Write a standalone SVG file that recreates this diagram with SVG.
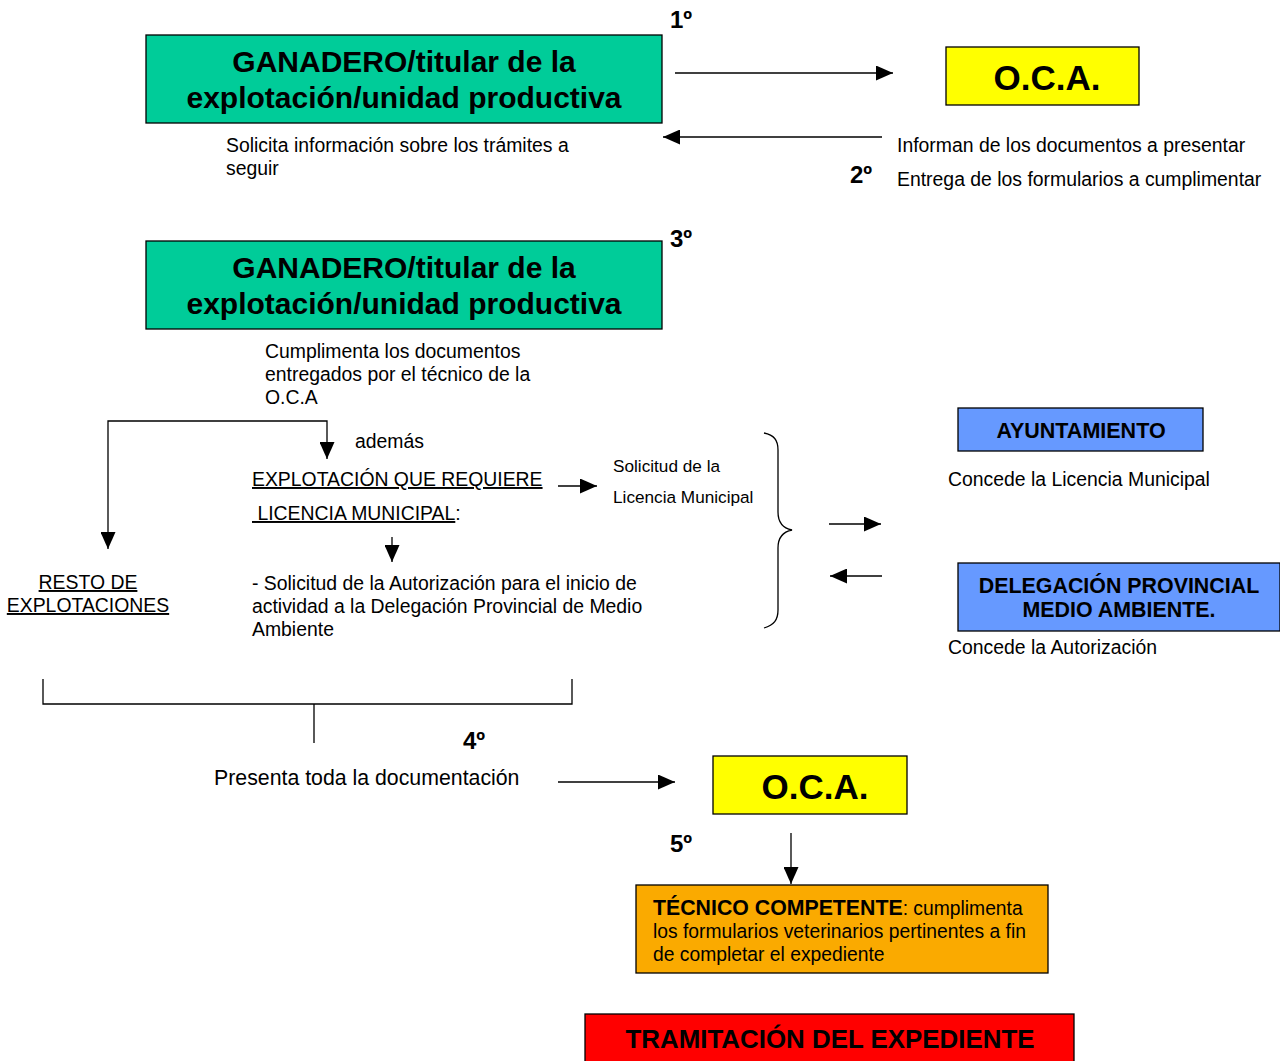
<svg xmlns="http://www.w3.org/2000/svg" width="1280" height="1061" viewBox="0 0 1280 1061">
<style>
text{font-family:"Liberation Sans",Arial,sans-serif;fill:#000}
.b{font-weight:bold}
.box{stroke:#000;stroke-width:1.3}
.t{font-size:19.4px}
.s{font-size:17.2px}
.n{font-size:24px;font-weight:bold}
.ln{stroke:#000;stroke-width:1.3;fill:none}
</style>
<defs>
<marker id="ahL" viewBox="0 0 17 15" refX="17" refY="7.5" markerWidth="17" markerHeight="15" markerUnits="userSpaceOnUse" orient="auto"><path d="M0,0L17,7.5L0,15z" fill="#000"/></marker>
</defs>
<rect width="1280" height="1061" fill="#fff"/>

<g id="ganadero1">
<rect class="box" x="146" y="35" width="516" height="88" fill="#00CC99"/>
<text class="b" x="404" y="72" font-size="30" text-anchor="middle">GANADERO/titular de la</text>
<text class="b" x="404" y="108" font-size="30" text-anchor="middle">explotación/unidad productiva</text>
</g>
<g id="oca1">
<rect class="box" x="946" y="47" width="193" height="58" fill="#FFFF00"/>
<text class="b" x="1047" y="90" font-size="35" text-anchor="middle">O.C.A.</text>
</g>
<g id="ganadero2">
<rect class="box" x="146" y="241" width="516" height="88" fill="#00CC99"/>
<text class="b" x="404" y="278" font-size="30" text-anchor="middle">GANADERO/titular de la</text>
<text class="b" x="404" y="314" font-size="30" text-anchor="middle">explotación/unidad productiva</text>
</g>
<g id="ayuntamiento">
<rect class="box" x="958" y="408" width="245" height="43" fill="#6699FF"/>
<text class="b" x="1081" y="438" font-size="21.5" text-anchor="middle">AYUNTAMIENTO</text>
</g>
<g id="delegacion">
<rect class="box" x="958" y="563" width="322" height="68" fill="#6699FF"/>
<text class="b" x="1119" y="593" font-size="21.4" text-anchor="middle">DELEGACIÓN PROVINCIAL</text>
<text class="b" x="1119" y="617" font-size="21.4" text-anchor="middle">MEDIO AMBIENTE.</text>
</g>
<g id="oca2">
<rect class="box" x="713" y="756" width="194" height="58" fill="#FFFF00"/>
<text class="b" x="815" y="799" font-size="35" text-anchor="middle">O.C.A.</text>
</g>
<g id="tecnico">
<rect class="box" x="636" y="885" width="412" height="88" fill="#FAAA00"/>
<text x="653" y="915" font-size="19.3"><tspan class="b" font-size="21.3">TÉCNICO COMPETENTE</tspan>: cumplimenta</text>
<text x="653" y="938" font-size="19.3">los formularios veterinarios pertinentes a fin</text>
<text x="653" y="961" font-size="19.3">de completar el expediente</text>
</g>
<g id="tramitacion">
<rect class="box" x="585" y="1014" width="489" height="50" fill="#FF0000"/>
<text class="b" x="830" y="1048" font-size="25.9" text-anchor="middle">TRAMITACIÓN DEL EXPEDIENTE</text>
</g>

<g id="labels">
<text class="n" x="670" y="28">1º</text>
<text class="t" x="226" y="152">Solicita información sobre los trámites a</text>
<text class="t" x="226" y="175">seguir</text>
<text class="t" x="897" y="152">Informan de los documentos a presentar</text>
<text class="n" x="850" y="183">2º</text>
<text class="t" x="897" y="186">Entrega de los formularios a cumplimentar</text>
<text class="n" x="670" y="247">3º</text>
<text class="t" x="265" y="358">Cumplimenta los documentos</text>
<text class="t" x="265" y="381">entregados por el técnico de la</text>
<text class="t" x="265" y="404">O.C.A</text>
<text class="t" x="355" y="448">además</text>
<text class="t" x="252" y="486" text-decoration="underline">EXPLOTACIÓN QUE REQUIERE</text>
<text class="t" x="252" y="520"><tspan text-decoration="underline">&#160;LICENCIA MUNICIPAL</tspan>:</text>
<text class="s" x="613" y="472">Solicitud de la</text>
<text class="s" x="613" y="503">Licencia Municipal</text>
<text class="t" x="88" y="589" text-anchor="middle" text-decoration="underline">RESTO DE</text>
<text class="t" x="88" y="612" text-anchor="middle" text-decoration="underline">EXPLOTACIONES</text>
<text class="t" x="252" y="590">- Solicitud de la Autorización para el inicio de</text>
<text class="t" x="252" y="613">actividad a la Delegación Provincial de Medio</text>
<text class="t" x="252" y="636">Ambiente</text>
<text class="t" x="948" y="486">Concede la Licencia Municipal</text>
<text class="t" x="948" y="654">Concede la Autorización</text>
<text class="n" x="463" y="749">4º</text>
<text x="214" y="785" font-size="21.3">Presenta toda la documentación</text>
<text class="n" x="670" y="852">5º</text>
</g>

<g id="connectors">
<line class="ln" x1="675" y1="73" x2="893" y2="73" marker-end="url(#ahL)"/>
<line class="ln" x1="882" y1="137" x2="663" y2="137" marker-end="url(#ahL)"/>
<path class="ln" d="M108,500V421H327V459" marker-end="url(#ahL)"/>
<line class="ln" x1="108" y1="500" x2="108" y2="549" marker-end="url(#ahL)"/>
<line class="ln" x1="558" y1="486" x2="597" y2="486" marker-end="url(#ahL)"/>
<line class="ln" x1="392" y1="537" x2="392" y2="562" marker-end="url(#ahL)"/>
<path class="ln" d="M764,433C774,435 778,440 778,450V512C778,522 782,528 792,530C782,532 778,538 778,548V610C778,620 774,625 764,628"/>
<line class="ln" x1="829" y1="524" x2="881" y2="524" marker-end="url(#ahL)"/>
<line class="ln" x1="882" y1="576" x2="830" y2="576" marker-end="url(#ahL)"/>
<path class="ln" d="M43,679V704H572V679M314,704V743"/>
<line class="ln" x1="558" y1="782" x2="675" y2="782" marker-end="url(#ahL)"/>
<line class="ln" x1="791" y1="833" x2="791" y2="884" marker-end="url(#ahL)"/>
</g>
</svg>
